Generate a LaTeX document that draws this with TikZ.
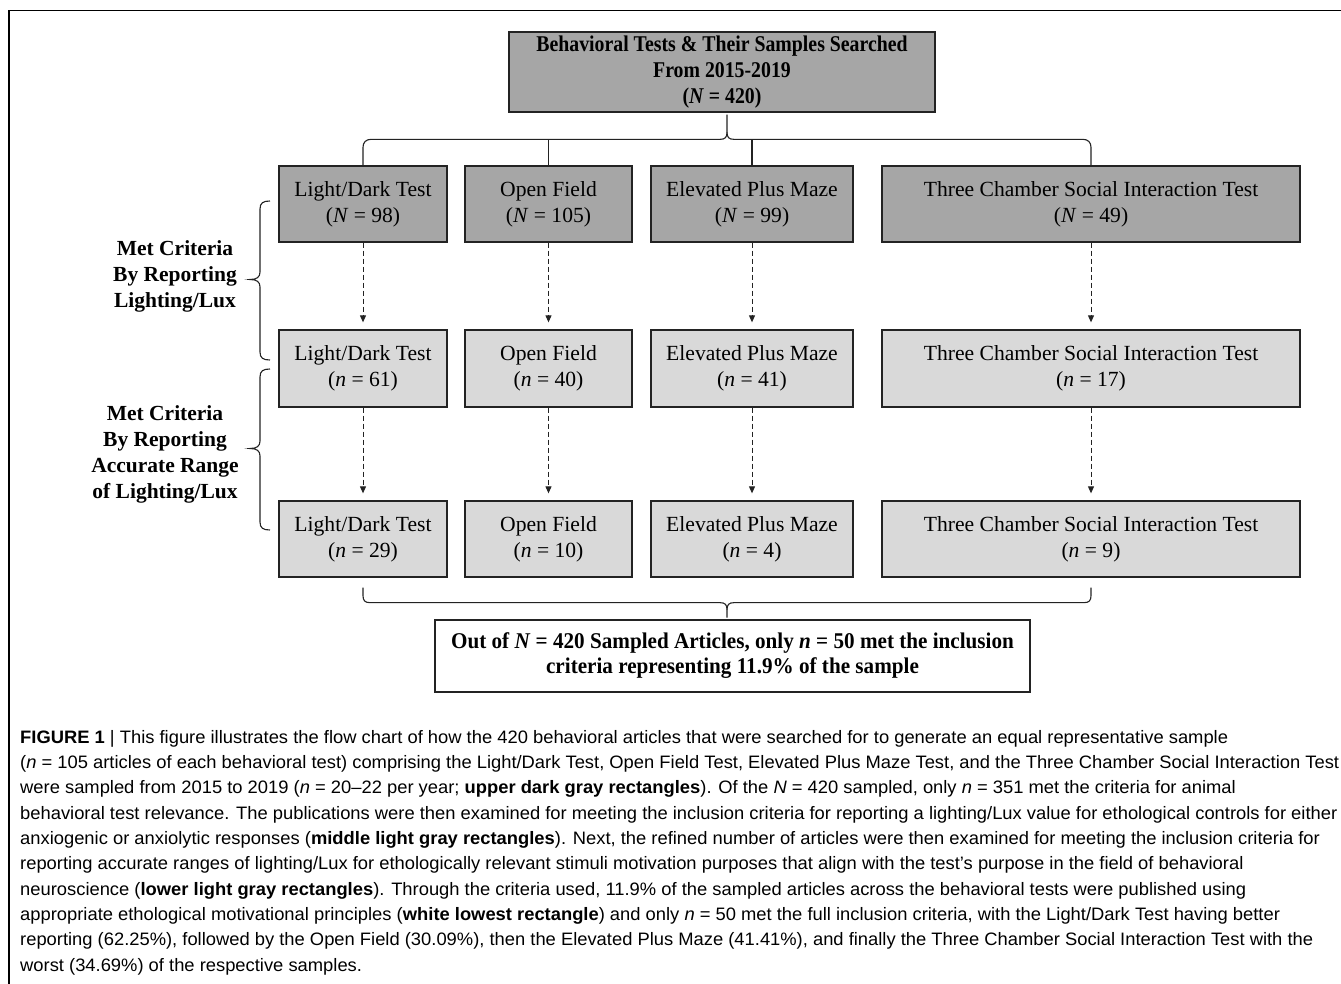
\documentclass[tikz,border=0pt]{standalone}
\usepackage{fontspec}
\setmainfont{Liberation Serif}
\newfontfamily\capfont[FakeStretch=1.02]{Liberation Sans}
\newfontfamily\topfont[FakeStretch=0.88]{Liberation Serif}
\newfontfamily\finfont[FakeStretch=0.94]{Liberation Serif}
\usetikzlibrary{arrows.meta,calc}
\definecolor{darkbox}{RGB}{166,166,166}
\definecolor{lightbox}{RGB}{217,217,217}
\definecolor{edge}{RGB}{35,35,35}
\tikzset{
  box/.style={draw=edge, line width=1.3pt, align=center, inner sep=0pt,
    font=\fontsize{21.6}{26}\selectfont},
  dbox/.style={box, fill=darkbox},
  lbox/.style={box, fill=lightbox},
  wbox/.style={box, fill=white, font=\finfont\bfseries\fontsize{22.5}{25}\selectfont},
  conn/.style={draw=edge, line width=1.1pt},
  flow/.style={draw=edge, line width=1pt, dash pattern=on 5pt off 3pt,
    -{Triangle[length=7pt,width=6pt]}, shorten >=7pt},
  side/.style={align=center, font=\bfseries\fontsize{21.5}{26}\selectfont},
  capline/.style={anchor=base west, inner sep=0pt,
    font=\capfont\fontsize{18}{22}\selectfont},
}
\begin{document}
\begin{tikzpicture}[x=1pt,y=-1pt]
\useasboundingbox (0,0) rectangle (1341,984);
\draw[line width=1.6pt] (9,984) -- (9,10.5) -- (1341,10.5);

% top box
\node[dbox, font=\topfont\bfseries\fontsize{22.5}{26}\selectfont, minimum width=426pt, minimum height=80pt] (top) at (722,72)
  {Behavioral Tests \& Their Samples Searched\\From 2015-2019\\(\textit{N} = 420)};

% row 1
\node[dbox, minimum width=168pt, minimum height=76pt] (l1) at (363,204) {Light/Dark Test\\(\textit{N} = 98)};
\node[dbox, minimum width=167pt, minimum height=76pt] (l2) at (548.5,204) {Open Field\\(\textit{N} = 105)};
\node[dbox, minimum width=202pt, minimum height=76pt] (l3) at (752,204) {Elevated Plus Maze\\(\textit{N} = 99)};
\node[dbox, minimum width=418pt, minimum height=76pt] (l4) at (1091,204) {Three Chamber Social Interaction Test\\(\textit{N} = 49)};

% row 2
\node[lbox, minimum width=168pt, minimum height=77pt] (m1) at (363,368.5) {Light/Dark Test\\(\textit{n} = 61)};
\node[lbox, minimum width=167pt, minimum height=77pt] (m2) at (548.5,368.5) {Open Field\\(\textit{n} = 40)};
\node[lbox, minimum width=202pt, minimum height=77pt] (m3) at (752,368.5) {Elevated Plus Maze\\(\textit{n} = 41)};
\node[lbox, minimum width=418pt, minimum height=77pt] (m4) at (1091,368.5) {Three Chamber Social Interaction Test\\(\textit{n} = 17)};

% row 3
\node[lbox, minimum width=168pt, minimum height=76pt] (r1) at (363,539) {Light/Dark Test\\(\textit{n} = 29)};
\node[lbox, minimum width=167pt, minimum height=76pt] (r2) at (548.5,539) {Open Field\\(\textit{n} = 10)};
\node[lbox, minimum width=202pt, minimum height=76pt] (r3) at (752,539) {Elevated Plus Maze\\(\textit{n} = 4)};
\node[lbox, minimum width=418pt, minimum height=76pt] (r4) at (1091,539) {Three Chamber Social Interaction Test\\(\textit{n} = 9)};

% final box
\node[wbox, minimum width=595pt, minimum height=72pt] (fin) at (732.5,656)
  {Out of \textit{N} = 420 Sampled Articles, only \textit{n} = 50 met the inclusion\\criteria representing 11.9\% of the sample};

% dashed arrows
\foreach \i in {1,2,3,4}{
  \draw[flow] (l\i.south) -- (m\i.north);
  \draw[flow] (m\i.south) -- (r\i.north);
}

% top brace
\path (l1.north) -- (l4.north) coordinate[pos=0.5] (mid);
\draw[conn] (l1.north) -- ++(0,-18) .. controls +(0,-5) and +(-5,0) .. ++(8,-8)
  -- ($(mid)+(-7,-26)$) .. controls +(5,0) and +(0,5) .. ($(mid)+(0,-33)$) -- ($(mid |- top.south)+(0,2)$);
\draw[conn] (l4.north) -- ++(0,-18) .. controls +(0,-5) and +(5,0) .. ++(-8,-8)
  -- ($(mid)+(7,-26)$) .. controls +(-5,0) and +(0,5) .. ($(mid)+(0,-33)$);
\draw[conn] (l2.north) -- ++(0,-26);
\draw[conn] (l3.north) -- ++(0,-26);

% bottom brace
\path (r1.south) -- (r4.south) coordinate[pos=0.5] (midb);
\draw[conn] ($(r1.south)+(0,10)$) -- ++(0,8) .. controls +(0,5) and +(-5,0) .. ++(7,7)
  -- ($(midb)+(-7,25)$) .. controls +(5,0) and +(0,-5) .. ($(midb)+(0,32)$) -- ($(midb)+(0,40)$);
\draw[conn] ($(r4.south)+(0,10)$) -- ++(0,8) .. controls +(0,5) and +(5,0) .. ++(-7,7)
  -- ($(midb)+(7,25)$) .. controls +(-5,0) and +(0,-5) .. ($(midb)+(0,32)$);

% left braces
\draw[conn] (270,201) .. controls (263,201) and (260,203) .. (260,209) -- (260,272)
  .. controls (260,277) and (257,279.5) .. (250,279.5)
  .. controls (257,279.5) and (260,282) .. (260,287) -- (260,352)
  .. controls (260,358) and (263,360) .. (270,360);
\draw[conn] (270,369) .. controls (263,369) and (260,371) .. (260,377) -- (260,441)
  .. controls (260,446) and (257,448.5) .. (250,448.5)
  .. controls (257,448.5) and (260,451) .. (260,456) -- (260,522)
  .. controls (260,528) and (263,530) .. (270,530);

\node[side] (lab1) at (175,276) {Met Criteria\\By Reporting\\Lighting/Lux};
\node[side] (lab2) at (165,454) {Met Criteria\\By Reporting\\Accurate Range\\of Lighting/Lux};

% caption
\node[capline] (c1) at (20,743.3) {\textbf{FIGURE 1} | This figure illustrates the flow chart of how the 420 behavioral articles that were searched for to generate an equal representative sample};
\node[capline] (c2) at (20,768.6) {(\textit{n} = 105 articles of each behavioral test) comprising the Light/Dark Test, Open Field Test, Elevated Plus Maze Test, and the Three Chamber Social Interaction Test};
\node[capline] (c3) at (20,793.9) {were sampled from 2015 to 2019 (\textit{n} = 20–22 per year; \textbf{upper dark gray rectangles}). Of the \textit{N} = 420 sampled, only \textit{n} = 351 met the criteria for animal};
\node[capline] (c4) at (20,819.2) {behavioral test relevance. The publications were then examined for meeting the inclusion criteria for reporting a lighting/Lux value for ethological controls for either};
\node[capline] (c5) at (20,844.5) {anxiogenic or anxiolytic responses (\textbf{middle light gray rectangles}). Next, the refined number of articles were then examined for meeting the inclusion criteria for};
\node[capline] (c6) at (20,869.8) {reporting accurate ranges of lighting/Lux for ethologically relevant stimuli motivation purposes that align with the test’s purpose in the field of behavioral};
\node[capline] (c7) at (20,895.1) {neuroscience (\textbf{lower light gray rectangles}). Through the criteria used, 11.9\% of the sampled articles across the behavioral tests were published using};
\node[capline] (c8) at (20,920.4) {appropriate ethological motivational principles (\textbf{white lowest rectangle}) and only \textit{n} = 50 met the full inclusion criteria, with the Light/Dark Test having better};
\node[capline] (c9) at (20,945.7) {reporting (62.25\%), followed by the Open Field (30.09\%), then the Elevated Plus Maze (41.41\%), and finally the Three Chamber Social Interaction Test with the};
\node[capline] (c10) at (20,971) {worst (34.69\%) of the respective samples.};
\end{tikzpicture}
\end{document}
